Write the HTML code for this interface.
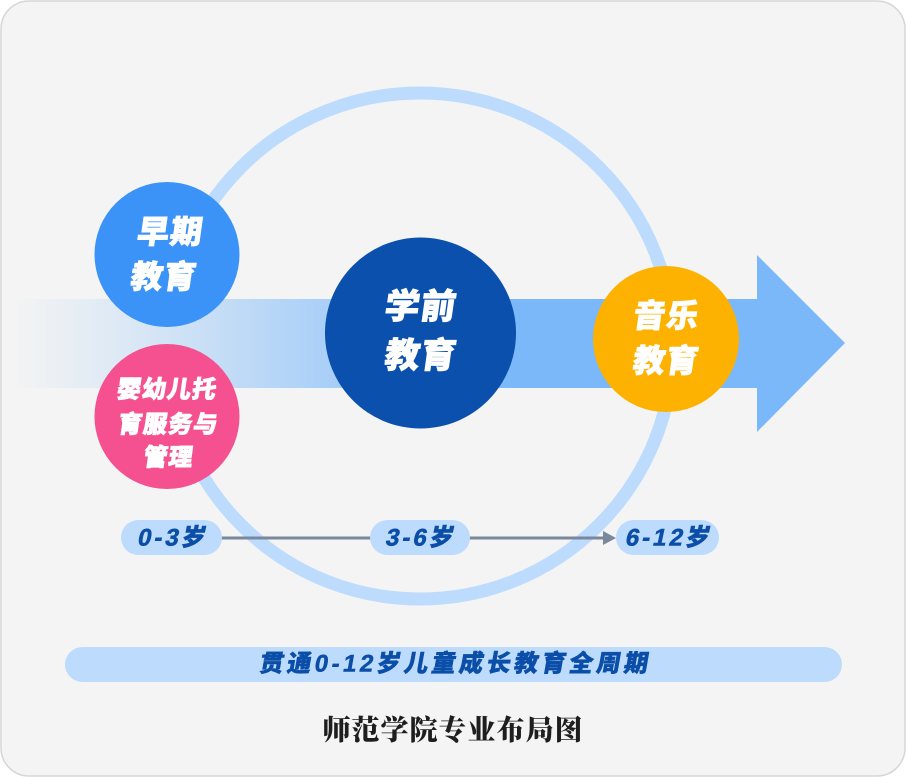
<!DOCTYPE html>
<html>
<head>
<meta charset="utf-8">
<style>
  html,body{margin:0;padding:0;background:#ffffff;}
  body{width:906px;height:777px;overflow:hidden;}
  svg{display:block;}
  .cjk{font-family:"Liberation Sans","Noto Sans CJK SC",sans-serif;font-weight:900;}
  .serif{font-family:"Liberation Serif","Noto Serif CJK SC",serif;font-weight:900;}
</style>
</head>
<body>
<svg width="906" height="777" viewBox="0 0 906 777" xmlns="http://www.w3.org/2000/svg">
  <defs>
    <linearGradient id="bodyg" x1="12" y1="0" x2="516" y2="0" gradientUnits="userSpaceOnUse">
      <stop offset="0" stop-color="#f4f4f4"/>
      <stop offset="0.25" stop-color="#d9e7f5"/>
      <stop offset="1" stop-color="#7ab8fa"/>
    </linearGradient>
  </defs>

  <!-- frame -->
  <rect x="1" y="1" width="904" height="775" rx="28" ry="28" fill="#f4f4f4" stroke="#d6d6d6" stroke-width="1.5"/>

  <!-- big ring -->
  <circle cx="420" cy="346" r="253" fill="none" stroke="#bddcfd" stroke-width="13"/>

  <!-- arrow -->
  <rect x="12" y="299" width="506" height="89" fill="url(#bodyg)"/>
  <rect x="516" y="299" width="242" height="89" fill="#7ab8fa"/>
  <polygon points="757,255 845,343 757,432" fill="#7ab8fa"/>

  <!-- circles -->
  <circle cx="167" cy="254.5" r="72.5" fill="#3b93f8"/>
  <circle cx="167" cy="416.5" r="72.5" fill="#f5508f"/>
  <circle cx="420.5" cy="333" r="95.5" fill="#0a50ac"/>
  <circle cx="666" cy="339" r="73" fill="#fdb101"/>

  <!-- circle labels -->
  <g class="cjk" fill="#ffffff" stroke="#ffffff" stroke-width="0.8" text-anchor="middle" dominant-baseline="central">
    <g transform="skewX(-8)">
      <text x="203" y="232" font-size="32" letter-spacing="1">早期</text>
      <text x="203" y="277" font-size="32" letter-spacing="1">教育</text>

      <text x="222" y="390" font-size="24" letter-spacing="1">婴幼儿托</text>
      <text x="228" y="425" font-size="24" letter-spacing="1">育服务与</text>
      <text x="233" y="458" font-size="24" letter-spacing="1">管理</text>

      <text x="464" y="307" font-size="35" letter-spacing="1">学前</text>
      <text x="471" y="356" font-size="35" letter-spacing="1">教育</text>

      <text x="711" y="316" font-size="32" letter-spacing="1">音乐</text>
      <text x="717" y="361" font-size="32" letter-spacing="1">教育</text>
    </g>
  </g>

  <!-- age timeline -->
  <line x1="221" y1="538" x2="372" y2="538" stroke="#7a889c" stroke-width="3"/>
  <line x1="469" y1="538" x2="605" y2="538" stroke="#7a889c" stroke-width="3"/>
  <polygon points="603,531 616,538 603,545" fill="#7a889c"/>

  <rect x="121" y="520" width="101" height="35" rx="17.5" fill="#bddcfd"/>
  <rect x="370" y="520" width="100" height="35" rx="17.5" fill="#bddcfd"/>
  <rect x="616" y="520" width="103" height="35" rx="17.5" fill="#bddcfd"/>

  <g class="cjk" fill="#0b4ea8" stroke="#0b4ea8" stroke-width="0.6" text-anchor="middle" dominant-baseline="central" font-size="24" letter-spacing="3">
    <g transform="skewX(-12)">
      <text x="288" y="538">0-3岁</text>
      <text x="536" y="538">3-6岁</text>
      <text x="784" y="538">6-12岁</text>
    </g>
  </g>

  <!-- banner -->
  <rect x="65" y="647" width="777" height="35" rx="17.5" fill="#bddcfd"/>
  <g class="cjk" fill="#0b4ea8" stroke="#0b4ea8" stroke-width="0.5" text-anchor="middle" dominant-baseline="central" font-size="24">
    <g transform="skewX(-10)">
      <text x="573" y="664" letter-spacing="3.5">贯通0-12岁儿童成长教育全周期</text>
    </g>
  </g>

  <!-- title -->
  <text class="serif" x="453" y="731" font-size="28" fill="#1e1e1e" text-anchor="middle" dominant-baseline="central" letter-spacing="1">师范学院专业布局图</text>
</svg>
</body>
</html>
